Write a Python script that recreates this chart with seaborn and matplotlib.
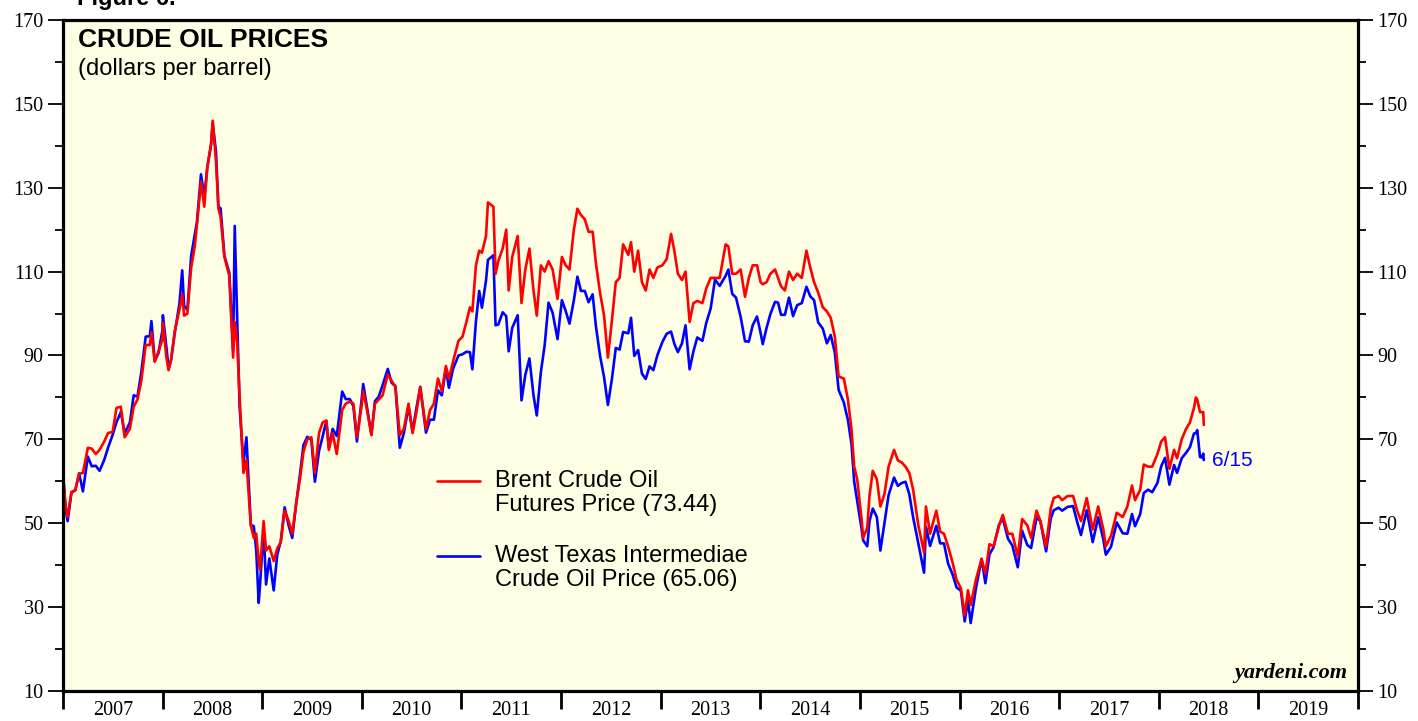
import numpy as np
import pandas as pd
import matplotlib
matplotlib.use("Agg")
import matplotlib.pyplot as plt
from matplotlib.lines import Line2D
import seaborn as sns

# ---------------- data ----------------
dates = [
    # 2007
    "2007-01-02", "2007-01-10", "2007-01-18", "2007-02-01", "2007-02-15", "2007-03-01", "2007-03-15",
    "2007-04-02", "2007-04-16", "2007-05-01", "2007-05-15", "2007-06-01", "2007-06-15", "2007-07-02",
    "2007-07-16", "2007-08-01", "2007-08-15", "2007-09-03", "2007-09-17", "2007-10-01", "2007-10-15",
    "2007-10-31", "2007-11-15", "2007-11-21", "2007-12-03", "2007-12-17", "2007-12-31",
    # 2008
    "2008-01-02", "2008-01-15", "2008-01-23", "2008-02-01", "2008-02-15", "2008-03-03", "2008-03-13",
    "2008-03-20", "2008-04-01", "2008-04-15", "2008-04-28", "2008-05-06", "2008-05-21", "2008-06-02",
    "2008-06-13", "2008-06-27", "2008-07-03", "2008-07-15", "2008-07-24", "2008-08-01", "2008-08-15",
    "2008-09-02", "2008-09-16", "2008-09-22", "2008-10-01", "2008-10-10", "2008-10-24", "2008-11-04",
    "2008-11-20", "2008-12-01", "2008-12-10", "2008-12-19", "2008-12-24",
    # 2009
    "2009-01-06", "2009-01-15", "2009-01-27", "2009-02-12", "2009-02-25", "2009-03-10", "2009-03-24",
    "2009-04-08", "2009-04-21", "2009-05-05", "2009-05-20", "2009-06-01", "2009-06-15", "2009-06-30",
    "2009-07-13", "2009-07-28", "2009-08-10", "2009-08-24", "2009-09-02", "2009-09-16", "2009-10-01",
    "2009-10-21", "2009-11-03", "2009-11-18", "2009-12-01", "2009-12-14", "2009-12-31",
    # 2010
    "2010-01-06", "2010-01-20", "2010-02-05", "2010-02-18", "2010-03-04", "2010-03-18", "2010-04-06",
    "2010-04-20", "2010-05-04", "2010-05-20", "2010-06-04", "2010-06-21", "2010-07-06", "2010-07-20",
    "2010-08-03", "2010-08-24", "2010-09-08", "2010-09-22", "2010-10-07", "2010-10-21", "2010-11-05",
    "2010-11-16", "2010-12-01", "2010-12-21",
    # 2011
    "2011-01-05", "2011-01-19", "2011-02-01", "2011-02-10", "2011-02-23", "2011-03-07", "2011-03-17",
    "2011-04-01", "2011-04-08", "2011-04-28", "2011-05-06", "2011-05-16", "2011-06-01", "2011-06-14",
    "2011-06-23", "2011-07-06", "2011-07-26", "2011-08-09", "2011-08-23", "2011-09-07", "2011-09-22",
    "2011-10-04", "2011-10-19", "2011-11-02", "2011-11-16", "2011-12-01", "2011-12-19",
    # 2012
    "2012-01-04", "2012-01-18", "2012-02-01", "2012-02-17", "2012-03-01", "2012-03-14", "2012-03-28",
    "2012-04-11", "2012-04-26", "2012-05-08", "2012-05-23", "2012-06-07", "2012-06-21", "2012-07-06",
    "2012-07-20", "2012-08-03", "2012-08-16", "2012-09-04", "2012-09-14", "2012-09-26", "2012-10-10",
    "2012-10-24", "2012-11-07", "2012-11-21", "2012-12-05", "2012-12-20",
    # 2013
    "2013-01-07", "2013-01-23", "2013-02-08", "2013-02-20", "2013-03-05", "2013-03-20", "2013-04-02",
    "2013-04-17", "2013-05-01", "2013-05-15", "2013-06-03", "2013-06-17", "2013-07-03", "2013-07-19",
    "2013-08-05", "2013-08-27", "2013-09-06", "2013-09-20", "2013-10-04", "2013-10-21", "2013-11-06",
    "2013-11-20", "2013-12-04", "2013-12-20",
    # 2014
    "2014-01-02", "2014-01-10", "2014-01-24", "2014-02-07", "2014-02-24", "2014-03-07", "2014-03-18",
    "2014-04-01", "2014-04-16", "2014-05-01", "2014-05-16", "2014-06-02", "2014-06-19", "2014-07-03",
    "2014-07-17", "2014-08-01", "2014-08-18", "2014-09-02", "2014-09-16", "2014-10-01", "2014-10-15",
    "2014-11-03", "2014-11-18", "2014-12-01", "2014-12-11", "2014-12-22",
    # 2015
    "2015-01-07", "2015-01-13", "2015-01-28", "2015-02-05", "2015-02-17", "2015-03-04", "2015-03-17",
    "2015-04-01", "2015-04-16", "2015-05-06", "2015-05-20", "2015-06-03", "2015-06-17", "2015-07-01",
    "2015-07-15", "2015-08-03", "2015-08-24", "2015-08-31", "2015-09-15", "2015-10-08", "2015-10-22",
    "2015-11-05", "2015-11-20", "2015-12-07", "2015-12-21",
    # 2016
    "2016-01-06", "2016-01-20", "2016-02-01", "2016-02-11", "2016-03-01", "2016-03-22", "2016-04-05",
    "2016-04-20", "2016-05-05", "2016-05-25", "2016-06-08", "2016-06-27", "2016-07-13", "2016-08-02",
    "2016-08-18", "2016-09-06", "2016-09-20", "2016-10-10", "2016-10-24", "2016-11-14", "2016-12-01",
    "2016-12-12", "2016-12-30",
    # 2017
    "2017-01-12", "2017-02-01", "2017-02-21", "2017-03-08", "2017-03-22", "2017-04-12", "2017-05-04",
    "2017-05-24", "2017-06-12", "2017-06-21", "2017-07-10", "2017-07-31", "2017-08-22", "2017-09-08",
    "2017-09-25", "2017-10-06", "2017-10-25", "2017-11-07", "2017-11-23", "2017-12-08", "2017-12-27",
    # 2018
    "2018-01-10", "2018-01-24", "2018-02-09", "2018-02-26", "2018-03-09", "2018-03-26", "2018-04-11",
    "2018-04-25", "2018-05-10", "2018-05-17", "2018-05-22", "2018-06-01", "2018-06-08", "2018-06-13",
    "2018-06-15",
]

brent = [
    # 2007
    61.0, 54.5, 51.5, 57.5, 57.8, 61.8, 62.0, 68.0, 67.8, 66.5, 67.5, 69.5, 71.5, 71.8,
    77.5, 77.8, 70.5, 72.5, 77.8, 79.5, 84.0, 92.5, 92.5, 95.5, 88.5, 91.0, 93.8,
    # 2008
    97.8, 89.5, 86.5, 89.0, 96.0, 101.0, 104.5, 99.5, 100.0, 111.0, 116.0, 121.0, 131.5, 125.5,
    134.8, 140.5, 146.0, 136.5, 125.0, 123.0, 113.5, 109.0, 89.5, 98.0, 93.0, 80.0, 62.0, 65.0,
    49.5, 46.5, 47.5, 41.0, 39.0,
    # 2009
    50.5, 43.5, 44.5, 41.0, 44.0, 45.5, 53.0, 50.5, 47.5, 54.5, 61.0, 67.0, 70.0, 70.5,
    62.0, 71.5, 74.0, 74.5, 67.5, 71.5, 66.5, 77.0, 78.5, 79.0, 78.5, 70.5, 77.9,
    # 2010
    81.5, 77.0, 71.0, 78.5, 79.5, 80.5, 85.5, 84.0, 82.5, 71.0, 72.5, 78.5, 71.5, 76.5,
    82.5, 72.5, 77.0, 78.5, 84.5, 81.5, 87.5, 84.5, 88.5, 93.5,
    # 2011
    94.5, 98.0, 101.5, 100.5, 111.5, 115.0, 114.5, 118.5, 126.5, 125.5, 109.5, 112.5, 115.5, 120.0,
    105.5, 113.5, 118.5, 102.5, 110.5, 115.5, 105.5, 99.5, 111.5, 110.0, 112.5, 110.5, 103.5,
    # 2012
    113.5, 111.5, 110.5, 120.0, 125.0, 123.5, 122.5, 119.5, 119.5, 112.0, 105.0, 99.5, 89.5, 98.5,
    107.5, 108.5, 116.5, 114.0, 117.0, 110.0, 115.0, 107.5, 105.5, 110.5, 108.5, 111.0,
    # 2013
    111.5, 113.0, 119.0, 115.0, 109.5, 108.0, 110.0, 98.0, 102.5, 103.0, 102.5, 106.0, 108.5, 108.5,
    108.5, 116.5, 116.0, 109.5, 109.5, 110.5, 104.0, 108.5, 111.5, 111.5,
    # 2014
    107.5, 107.0, 107.5, 109.5, 110.5, 108.5, 106.5, 105.5, 110.0, 108.0, 109.5, 108.5, 115.0, 111.0,
    107.5, 105.0, 101.5, 100.5, 99.0, 94.5, 85.0, 84.5, 79.5, 72.5, 63.5, 60.5,
    # 2015
    51.0, 46.5, 49.0, 56.5, 62.5, 60.5, 54.0, 57.0, 63.5, 67.5, 65.0, 64.5, 63.5, 62.0,
    58.0, 49.5, 43.0, 54.0, 47.5, 53.0, 48.0, 47.5, 44.5, 40.5, 36.5,
    # 2016
    34.5, 28.0, 34.0, 30.5, 36.5, 41.5, 38.0, 45.0, 44.5, 49.5, 52.0, 47.5, 47.5, 42.0,
    51.0, 49.5, 46.5, 53.0, 50.5, 44.5, 53.5, 56.0, 56.5,
    # 2017
    55.5, 56.5, 56.5, 53.0, 50.5, 56.0, 48.5, 54.0, 48.5, 44.5, 47.0, 52.5, 51.5, 54.0,
    59.0, 55.5, 58.0, 64.0, 63.5, 63.5, 66.5,
    # 2018
    69.5, 70.5, 63.0, 67.5, 65.5, 70.0, 72.5, 74.0, 77.5, 80.0, 79.5, 76.5, 76.5, 76.5, 73.44,
]

wti = [
    # 2007
    61.1, 53.5, 50.5, 57.3, 57.9, 61.9, 57.6, 65.9, 63.6, 63.7, 62.5, 65.1, 68.0, 71.1,
    74.1, 76.5, 71.5, 74.0, 80.5, 80.2, 86.1, 94.5, 94.6, 98.2, 88.7, 90.6, 95.9,
    # 2008
    99.6, 91.9, 86.9, 88.9, 95.5, 102.5, 110.3, 101.8, 100.9, 113.8, 118.8, 121.8, 133.2, 127.8,
    134.8, 140.2, 145.3, 138.7, 125.5, 125.1, 113.8, 109.7, 91.2, 120.9, 98.5, 77.7, 64.2, 70.5,
    49.6, 49.3, 43.5, 31.0, 35.4,
    # 2009
    48.6, 35.4, 41.6, 34.0, 42.5, 45.7, 53.8, 49.4, 46.5, 54.5, 62.0, 68.6, 70.6, 69.9,
    59.9, 67.2, 70.6, 74.4, 68.1, 72.5, 70.8, 81.4, 79.6, 79.6, 77.9, 69.5, 79.4,
    # 2010
    83.2, 77.6, 71.2, 79.1, 80.2, 82.9, 86.8, 83.5, 82.7, 68.0, 71.5, 77.8, 71.9, 77.5,
    82.5, 71.6, 74.7, 74.7, 81.7, 80.5, 86.9, 82.3, 86.8, 90.0,
    # 2011
    90.3, 90.9, 90.8, 86.7, 98.1, 105.4, 101.4, 107.9, 112.8, 113.9, 97.2, 97.4, 100.3, 99.4,
    91.0, 96.6, 99.6, 79.3, 85.4, 89.3, 80.5, 75.7, 86.1, 92.5, 102.6, 100.2, 93.9,
    # 2012
    103.2, 100.6, 97.6, 103.2, 108.8, 105.4, 105.4, 102.7, 104.6, 97.0, 90.0, 84.8, 78.2, 84.5,
    91.8, 91.4, 95.6, 95.3, 99.0, 89.9, 91.3, 85.7, 84.4, 87.4, 86.5, 90.1,
    # 2013
    93.2, 95.2, 95.7, 92.8, 90.8, 92.9, 97.2, 86.7, 91.0, 94.3, 93.5, 97.8, 101.2, 108.1,
    106.6, 109.0, 110.5, 104.7, 103.8, 99.2, 93.4, 93.3, 97.2, 99.3,
    # 2014
    95.4, 92.7, 96.6, 99.9, 102.8, 102.6, 99.7, 99.7, 103.8, 99.4, 102.0, 102.5, 106.4, 104.1,
    103.2, 97.9, 96.4, 92.9, 94.9, 90.7, 81.8, 78.8, 74.6, 69.0, 59.9, 55.3,
    # 2015
    48.7, 45.9, 44.5, 50.5, 53.5, 51.5, 43.5, 50.1, 56.7, 60.9, 58.9, 59.6, 59.9, 56.9,
    51.4, 45.2, 38.2, 49.2, 44.6, 49.4, 45.2, 45.2, 40.4, 37.7, 34.7,
    # 2016
    33.9, 26.6, 31.6, 26.2, 34.4, 41.5, 35.7, 42.6, 44.3, 49.6, 51.2, 46.3, 44.7, 39.5,
    48.2, 44.8, 44.1, 51.4, 50.5, 43.3, 51.1, 53.1, 53.7,
    # 2017
    53.0, 53.9, 54.1, 50.3, 47.2, 53.1, 45.5, 51.4, 46.1, 42.5, 44.4, 50.2, 47.6, 47.5,
    52.2, 49.3, 52.2, 57.2, 58.0, 57.4, 59.6,
    # 2018
    63.6, 65.6, 59.2, 63.9, 62.0, 65.5, 66.8, 68.1, 71.4, 71.5, 72.2, 65.8, 65.7, 66.6, 65.06,
]

year_labels = [str(y) for y in range(2007, 2020)]
y_ticks = list(range(10, 171, 20))
brent_label = ["Brent Crude Oil", "Futures Price (73.44)"]
wti_label = ["West Texas Intermediae", "Crude Oil Price (65.06)"]
last_date_label = "6/15"

assert len(dates) == len(brent) == len(wti)

# ---------------- build frame ----------------
d = pd.to_datetime(dates)
t = d.year + (d.dayofyear - 1) / np.where(d.is_leap_year, 366.0, 365.0)
df = pd.DataFrame({"t": np.asarray(t, float), "brent": brent, "wti": wti})

# ---------------- style ----------------
sns.set_style("ticks")
plt.rcParams["font.family"] = ["Liberation Sans", "DejaVu Sans"]
plt.rcParams["text.color"] = "black"
plt.rcParams["axes.labelcolor"] = "black"
plt.rcParams["xtick.color"] = "black"
plt.rcParams["ytick.color"] = "black"

RED = "#ff0000"
BLUE = "#0000ff"
BG = "#fefee4"

fig = plt.figure(figsize=(14.18, 7.21), dpi=100)
ax = fig.add_axes([63 / 1418, 30 / 721, 1295 / 1418, 671 / 721])
ax.set_facecolor(BG)

sns.lineplot(data=df, x="t", y="wti", ax=ax, color=BLUE, lw=1.9, estimator=None, sort=True)
sns.lineplot(data=df, x="t", y="brent", ax=ax, color=RED, lw=1.9, estimator=None, sort=True)

ax.set_xlim(2007, 2020)
ax.set_ylim(10, 170)
ax.set_xlabel("")
ax.set_ylabel("")

# spines
for s in ax.spines.values():
    s.set_linewidth(2.3)
    s.set_color("black")

# y axis ticks both sides
ax.set_yticks(y_ticks)
ax.set_yticks(list(range(20, 170, 20)), minor=True)
ax.tick_params(axis="y", which="major", direction="out", length=11, width=1.3,
               left=True, right=True, labelleft=True, labelright=True, pad=3,
               labelsize=14.5, colors="black")
ax.tick_params(axis="y", which="minor", direction="out", length=6, width=1.3,
               left=True, right=True, colors="black")

# x axis: year boundaries as major ticks, labels centred at mid-year
ax.set_xticks(list(range(2007, 2021)))
ax.set_xticklabels([])
ax.set_xticks([y + 0.5 for y in range(2007, 2020)], minor=True)
ax.set_xticklabels(year_labels, minor=True)
ax.tick_params(axis="x", which="major", direction="out", length=13, width=2.0,
               bottom=True, top=False, colors="black")
ax.tick_params(axis="x", which="minor", length=0, pad=7, labelsize=14.5, colors="black")

for lab in ax.get_yticklabels() + ax.get_xticklabels(minor=True):
    lab.set_family(["Liberation Serif", "DejaVu Serif"])

# titles
ax.text(0.0116, 0.970, "CRUDE OIL PRICES", transform=ax.transAxes, fontsize=19,
        fontweight="bold", va="center", ha="left", color="black")
ax.text(0.0116, 0.927, "(dollars per barrel)", transform=ax.transAxes, fontsize=17,
        va="center", ha="left", color="black")
fig.text(77 / 1418, 1 - 5 / 721, "Figure 6.", fontsize=17, fontweight="bold",
         va="baseline", ha="left", color="black")

# legend (manual, two-line labels with swatch on first line)
for ycen, col, lines in [(0.313, RED, brent_label), (0.201, BLUE, wti_label)]:
    ax.add_line(Line2D([0.2888, 0.322], [ycen, ycen], transform=ax.transAxes,
                       color=col, lw=1.9))
    ax.text(0.3336, ycen, lines[0], transform=ax.transAxes, fontsize=17,
            va="center", ha="left", color="black")
    ax.text(0.3336, ycen - 0.036, lines[1], transform=ax.transAxes, fontsize=17,
            va="center", ha="left", color="black")

# end-date label next to last WTI point
ax.annotate(last_date_label, xy=(df["t"].iloc[-1], df["wti"].iloc[-1]),
            xytext=(6, 0), textcoords="offset points", color=BLUE,
            fontsize=15, va="center", ha="left")

# watermark
ax.text(0.9915, 0.012, "yardeni.com", transform=ax.transAxes, fontsize=16,
        fontweight="bold", fontstyle="italic", family=["Liberation Serif", "DejaVu Serif"],
        ha="right", va="bottom", color="black")

fig.savefig("out.png", dpi=100, facecolor="white")
